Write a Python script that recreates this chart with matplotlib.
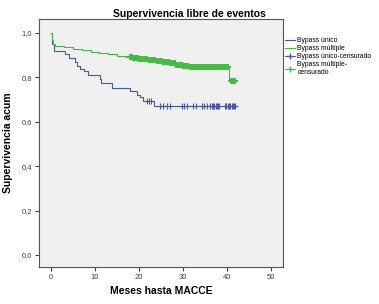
import numpy as np
import matplotlib
matplotlib.use('Agg')
import matplotlib.pyplot as plt
from matplotlib.lines import Line2D

plt.rcParams['font.family'] = ['Liberation Sans', 'DejaVu Sans']

# Kaplan-Meier step points (months, cumulative survival)
unico_t = [0, 0.3, 0.7, 3.1, 4.2, 5.5, 6.0, 6.5, 7.5, 8.4, 11.1, 11.4, 13.9,
           18.0, 19.5, 20.2, 21.0, 23.3, 42.2]
unico_s = [1.0, 0.95, 0.92, 0.905, 0.886, 0.868, 0.851, 0.836, 0.826, 0.811,
           0.793, 0.774, 0.753, 0.736, 0.721, 0.709, 0.694, 0.671, 0.671]
unico_cens = [21.7, 22.3, 22.8, 24.8, 25.5, 26.3, 27.0, 29.7, 30.3, 30.8, 32.2,
              33.0, 34.2, 34.8, 35.4, 36.1, 36.5, 36.8, 37.1, 37.4, 37.7, 38.0,
              38.2, 39.5, 39.8, 40.1, 40.4, 40.7, 41.0, 41.3, 41.6, 41.8]

multiple_t = [0, 0.2, 0.5, 1.0, 3.0, 5.0, 7.0, 9.0, 11.0, 13.0, 15.0, 17.0,
              18.5, 20.0, 22.0, 24.0, 25.5, 27.0, 28.5, 30.0, 31.5, 40.5, 41.8]
multiple_s = [1.0, 0.97, 0.95, 0.94, 0.935, 0.928, 0.921, 0.915, 0.909, 0.903,
              0.897, 0.891, 0.887, 0.883, 0.879, 0.873, 0.869, 0.862, 0.857,
              0.852, 0.845, 0.784, 0.784]
multiple_cens = [18.0, 18.3, 18.6, 18.9, 19.2, 19.5, 19.8, 20.1, 20.4, 20.7,
                 21.0, 21.3, 21.6, 21.9, 22.2, 22.5, 22.8, 23.1, 23.4, 23.7,
                 24.0, 24.3, 24.6, 24.9, 25.2, 25.5, 25.8, 26.1, 26.4, 26.7,
                 27.0, 27.3, 27.6, 27.9, 28.2, 28.5, 28.8, 29.1, 29.4, 29.7,
                 30.0, 30.3, 30.6, 30.9, 31.2, 31.5, 31.8, 32.1, 32.4, 32.7,
                 33.0, 33.3, 33.6, 33.9, 34.2, 34.5, 34.8, 35.1, 35.4, 35.7,
                 36.0, 36.3, 36.6, 36.9, 37.2, 37.5, 37.8, 38.1, 38.4, 38.7,
                 39.0, 39.3, 39.6, 39.9, 40.2, 40.8, 41.0, 41.4, 41.7]

yticks = [0.0, 0.2, 0.4, 0.6, 0.8, 1.0]
ylabels = ['0,0', '0,2', '0,4', '0,6', '0,8', '1,0']
xticks = [0, 10, 20, 30, 40, 50]

blue = '#4a5a9e'
green = '#46b946'


def surv_at(times, surv, t):
    idx = np.searchsorted(times, t, side='right') - 1
    return np.array(surv)[idx]


fig = plt.figure(figsize=(3.79, 3.04), dpi=100)
ax = fig.add_axes([0.103, 0.122, 0.644, 0.816])
ax.set_facecolor('#f0f0f0')

ax.step(unico_t, unico_s, where='post', color=blue, lw=0.8)
ax.step(multiple_t, multiple_s, where='post', color=green, lw=0.8)
ax.plot(unico_cens, surv_at(unico_t, unico_s, unico_cens), ls='none',
        marker='+', ms=5, mew=0.8, color=blue)
ax.plot(multiple_cens, surv_at(multiple_t, multiple_s, multiple_cens), ls='none',
        marker='+', ms=4.5, mew=1.4, color=green)

ax.set_xlim(-2.7, 52.7)
ax.set_ylim(-0.054, 1.063)
ax.set_xticks(xticks)
ax.set_xticklabels([str(x) for x in xticks])
ax.set_yticks(yticks)
ax.set_yticklabels(ylabels)
ax.tick_params(labelsize=5.5, length=3, width=0.8, colors='#444444', pad=2)
for s in ax.spines.values():
    s.set_color('#555555')
    s.set_linewidth(0.8)

fig.text(0.5, 0.955, 'Supervivencia libre de eventos', fontsize=7.5,
         fontweight='bold', ha='center', va='center')
ax.set_xlabel('Meses hasta MACCE', fontsize=7.5, fontweight='bold', labelpad=4)
ax.set_ylabel('Supervivencia acum', fontsize=7.5, fontweight='bold', labelpad=6)

handles = [
    Line2D([], [], color=blue, lw=0.8),
    Line2D([], [], color=green, lw=0.8),
    Line2D([], [], color=blue, lw=0.8, marker='+', ms=5),
    Line2D([], [], color=green, lw=0.8, marker='+', ms=5),
]
labels = ['Bypass único', 'Bypass múltiple', 'Bypass único-censurado',
          'Bypass múltiple-\ncensurado']
fig.legend(handles, labels, loc='upper left', bbox_to_anchor=(0.74, 0.893),
           frameon=False, fontsize=4.9, handlelength=1.4, handletextpad=0.4,
           labelspacing=0.15, borderpad=0.2)

fig.savefig('out.png', dpi=100)
